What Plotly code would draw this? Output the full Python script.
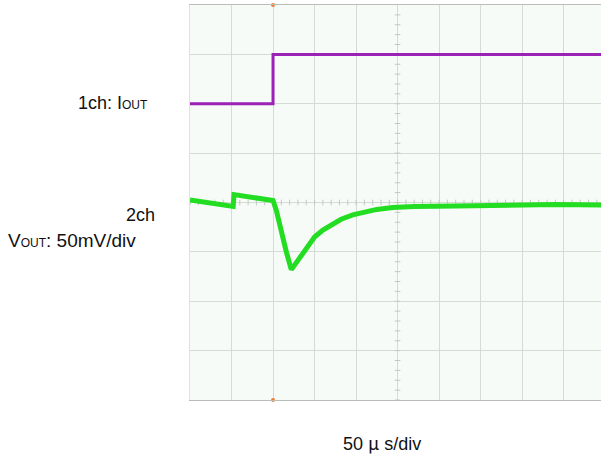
import numpy as np
import plotly.graph_objects as go

# scope settings: 50 us/div horizontally, 8 divs vertically
time_per_div = 50      # us
ch2_mv_per_div = 50    # mV

# 1ch: I_OUT (in screen divisions)
ch1_t = [-100, -50, 0, 0, 100, 200, 300, 395]
ch1_lvl = [2.0, 2.0, 2.0, 3.0, 3.0, 3.0, 3.0, 3.0]

# 2ch: V_OUT deviation (mV)
ch2_t = [-100, -75, -48, -47, -25, 0, 4, 10, 16, 22, 27, 33, 40, 50, 60, 70, 82, 96, 110,
         125, 144, 170, 220, 260, 300, 340, 395]
ch2_mv = [2.5, -0.5, -4, 8, 5, 2, -8, -30, -50, -68, -62, -54, -45, -35, -28, -22.5, -17, -12.5, -9.5,
          -7, -5, -4, -3.5, -3, -1.5, -2, -2.5]

trig_t = [0, 0]
trig_lvl = [4, -4]

x_lo, x_hi = -100, 395

fig = go.Figure()

# minor ticks on the centre crosshair
cx = 150
h_ticks = np.arange(-100, 400, 10)
v_ticks = np.arange(-4, 4.01, 0.2)
fig.add_trace(go.Scatter(x=h_ticks, y=[0] * len(h_ticks), mode="markers",
                         marker=dict(symbol="line-ns", size=4, line=dict(color="#c2c8c2", width=1)),
                         hoverinfo="skip", showlegend=False))
fig.add_trace(go.Scatter(x=[cx] * len(v_ticks), y=v_ticks, mode="markers",
                         marker=dict(symbol="line-ew", size=4, line=dict(color="#c2c8c2", width=1)),
                         hoverinfo="skip", showlegend=False))

fig.add_trace(go.Scatter(x=ch1_t, y=ch1_lvl, mode="lines",
                         line=dict(color="#9b22b5", width=3), showlegend=False))
fig.add_trace(go.Scatter(x=ch2_t, y=[v / ch2_mv_per_div for v in ch2_mv], mode="lines",
                         line=dict(color="#22dd22", width=5), showlegend=False))
# trigger position markers
fig.add_trace(go.Scatter(x=trig_t, y=trig_lvl, mode="markers", cliponaxis=False,
                         marker=dict(color="#f07c3c", size=4), showlegend=False))

grid = "#d5dbd5"
fig.update_xaxes(range=[x_lo, x_hi], tick0=-100, dtick=time_per_div, showgrid=True,
                 gridcolor=grid, gridwidth=1, zeroline=False, showticklabels=False,
                 ticks="", showline=True, mirror=True, linecolor="#b9beb9", linewidth=1)
fig.update_yaxes(range=[-4, 4], dtick=1, showgrid=True, gridcolor=grid, gridwidth=1,
                 zeroline=False, showticklabels=False, ticks="",
                 showline=True, linecolor="#dde2dd", linewidth=1)

font = dict(family="Liberation Sans, Arial", size=18, color="#111111")
sub = '<span style="font-size:12px">OUT</span>'
ann = [
    dict(text="1ch: I" + sub, x=-0.097, y=0.752, xanchor="right"),
    dict(text="2ch", x=-0.080, y=0.468, xanchor="right"),
    dict(text="V" + sub + ": 50mV/div", x=-0.447, y=0.405, xanchor="left", font_size=19),
    dict(text='50 <span style="font-family:Noto Sans CJK JP">μ</span> s/div',
         x=0.468, y=-0.106, xanchor="center"),
]
for a in ann:
    f = dict(font)
    if "font_size" in a:
        f["size"] = a.pop("font_size")
    fig.add_annotation(xref="paper", yref="paper", showarrow=False, yanchor="middle",
                       font=f, **a)

fig.update_layout(width=601, height=455, margin=dict(l=190, r=0, t=5, b=55),
                  plot_bgcolor="#f7fbf7", paper_bgcolor="white")

fig.write_html("out.html", config={"displayModeBar": False},
               post_script="document.body.style.margin='0';")
